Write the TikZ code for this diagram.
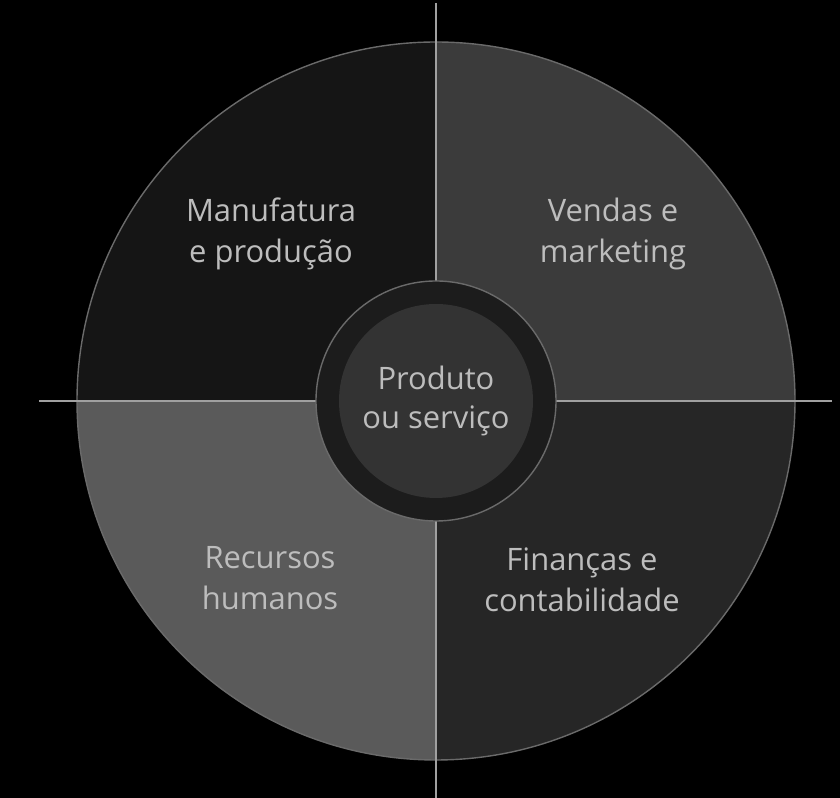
\documentclass[tikz,border=0pt]{standalone}
\usepackage{fontspec}
\setmainfont{Open Sans}
\usetikzlibrary{positioning, calc}
\definecolor{toplefts}{HTML}{151515}
\definecolor{toprights}{HTML}{3B3B3B}
\definecolor{botlefts}{HTML}{5A5A5A}
\definecolor{botrights}{HTML}{262626}
\definecolor{ringdark}{HTML}{1C1C1C}
\definecolor{coregray}{HTML}{333333}
\definecolor{rimgray}{HTML}{6A6A6A}
\definecolor{linegray}{HTML}{A0A0A0}
\definecolor{lighttext}{HTML}{BDBDBD}
\tikzstyle{area} = [rectangle, align=center, text=lighttext, inner sep=0pt, font=\fontsize{22}{29}\selectfont]
\tikzstyle{crossline} = [draw=linegray, line width=1.4pt]
\tikzstyle{ring} = [circle, minimum size=6cm, inner sep=0pt, fill=ringdark, draw=rimgray, line width=1pt]
\tikzstyle{core} = [circle, minimum size=4.85cm, inner sep=0pt, fill=coregray, align=center, text=lighttext, font=\fontsize{22}{28}\selectfont]

\begin{document}
\begin{tikzpicture}
\fill[black] (0,0) rectangle (21,19.95);
\useasboundingbox (0,0) rectangle (21,19.95);
\coordinate (O) at (10.9,9.925);
\def\R{8.975}
% four quarters of the disc
\fill[toplefts] (O) -- ++(180:\R) arc[start angle=180, end angle=90, radius=\R] -- cycle;
\fill[toprights] (O) -- ++(90:\R) arc[start angle=90, end angle=0, radius=\R] -- cycle;
\fill[botrights] (O) -- ++(0:\R) arc[start angle=0, end angle=-90, radius=\R] -- cycle;
\fill[botlefts] (O) -- ++(270:\R) arc[start angle=270, end angle=180, radius=\R] -- cycle;
\draw[rimgray, line width=1pt] (O) circle (\R);
% cross
\coordinate (top) at (10.9,19.875);
\coordinate (bottom) at (10.9,0);
\coordinate (left) at (0.975,9.925);
\coordinate (right) at (20.8,9.925);
\draw[crossline] (top) -- (bottom);
\draw[crossline] (left) -- (right);
% centre
\node (hub) [ring] at (O) {};
\node (product) [core] at (O) {Produto\\ou serviço};
% labels
\node (manuf) [area] at (6.775,14.1) {Manufatura\\e produção};
\node (sales) [area] at (15.325,14.1) {Vendas e\\marketing};
\node (hr) [area] at (6.75,5.5) {Recursos\\humanos};
\node (finance) [area] at (14.55,5.45) {Finanças e\\contabilidade};
\end{tikzpicture}
\end{document}
